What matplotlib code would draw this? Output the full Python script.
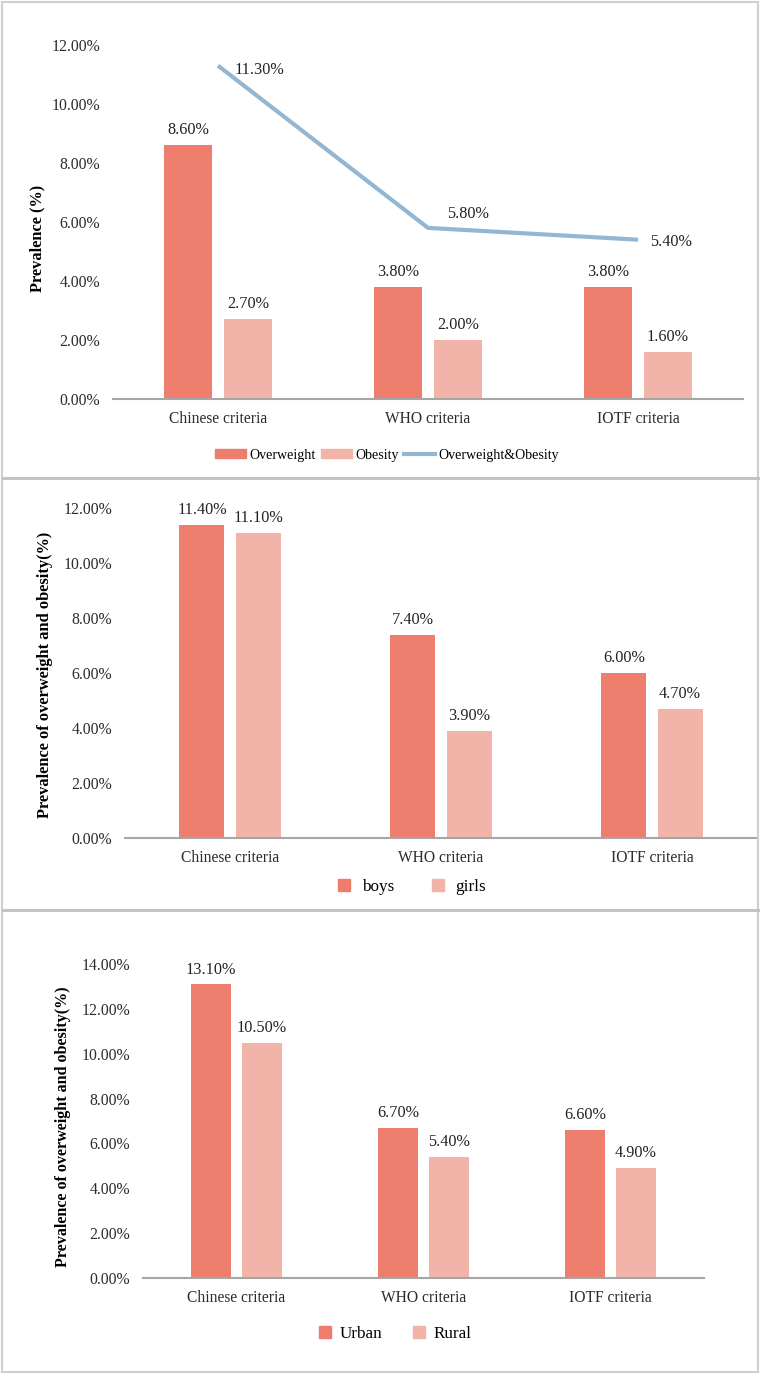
import matplotlib
matplotlib.use('Agg')
import matplotlib.pyplot as plt
from matplotlib.patches import Patch, Rectangle
from matplotlib.lines import Line2D
import numpy as np

plt.rcParams['font.family'] = ['Liberation Serif', 'DejaVu Serif']

# data
criterios = ['Chinese criteria', 'WHO criteria', 'IOTF criteria']

sobrepeso = [8.6, 3.8, 3.8]
obesidade = [2.7, 2.0, 1.6]
sobrepeso_obesidade = [11.3, 5.8, 5.4]

meninos = [11.4, 7.4, 6.0]
meninas = [11.1, 3.9, 4.7]

urbano = [13.1, 6.7, 6.6]
rural = [10.5, 5.4, 4.9]

cor_escura = '#ed7e6d'
cor_clara = '#f2b3a8'
cor_linha = '#93b7d3'
cor_eixo = '#a6a6a6'

W, H = 762, 1375
fig = plt.figure(figsize=(W / 100, H / 100), dpi=100)


def caixa(esq, dir, cima, baixo):
    # pixel box -> figure fraction
    return [esq / W, 1 - baixo / H, (dir - esq) / W, (baixo - cima) / H]


def monta_eixo(ax, ymax, passo):
    ax.set_xlim(-0.5, 2.5)
    ax.set_ylim(0, ymax)
    ticks = np.arange(0, ymax + 0.001, passo)
    ax.set_yticks(ticks)
    ax.set_yticklabels(['%.2f%%' % t for t in ticks], fontsize=11.3, color='#2b2b2b')
    ax.set_xticks(range(3))
    ax.set_xticklabels(criterios, fontsize=11.2, color='#2b2b2b')
    ax.tick_params(length=0)
    ax.tick_params(axis='x', pad=8.5)
    ax.tick_params(axis='y', pad=9)
    for s in ['top', 'right', 'left']:
        ax.spines[s].set_visible(False)
    ax.spines['bottom'].set_color(cor_eixo)
    ax.spines['bottom'].set_linewidth(1.5)
    ax.patch.set_alpha(0)


def rotula_barras(ax, barras, valores):
    for b, v in zip(barras, valores):
        ax.annotate('%.2f%%' % v, (b.get_x() + b.get_width() / 2, b.get_height()),
                    xytext=(0, 5), textcoords='offset points',
                    ha='center', va='bottom', fontsize=11.7, color='#222222')


x = np.arange(3)

# painel 1
ax1 = fig.add_axes(caixa(113, 743, 45, 399))
monta_eixo(ax1, 12, 2)
b1 = ax1.bar(x - 0.143, sobrepeso, 0.229, color=cor_escura)
b2 = ax1.bar(x + 0.143, obesidade, 0.229, color=cor_clara)
ax1.plot(x, sobrepeso_obesidade, color=cor_linha, lw=3, solid_capstyle='butt')
rotula_barras(ax1, b1, sobrepeso)
rotula_barras(ax1, b2, obesidade)
desloc = [(12, -3), (14, 10), (9, -2)]
for xi, v, d in zip(x, sobrepeso_obesidade, desloc):
    ax1.annotate('%.2f%%' % v, (xi, v), xytext=d, textcoords='offset points',
                 ha='left', va='center', fontsize=11.7, color='#222222')
fig.text(37 / W, 1 - 238 / H, 'Prevalence (%)', rotation=90, ha='center', va='center',
         fontsize=11.8, fontweight='bold')
fig.legend(handles=[Patch(color=cor_escura, label='Overweight'),
                    Patch(color=cor_clara, label='Obesity'),
                    Line2D([], [], color=cor_linha, lw=3, label='Overweight&Obesity')],
           loc='center', bbox_to_anchor=(387 / W, 1 - 455 / H), ncol=3, frameon=False,
           fontsize=10.1, handlelength=2.2, handleheight=0.55, handletextpad=0.25,
           columnspacing=0.35, borderpad=0)

# painel 2
ax2 = fig.add_axes(caixa(124.5, 757.5, 508.3, 837.7))
monta_eixo(ax2, 12, 2)
b1 = ax2.bar(x - 0.133, meninos, 0.213, color=cor_escura)
b2 = ax2.bar(x + 0.133, meninas, 0.213, color=cor_clara)
rotula_barras(ax2, b1, meninos)
rotula_barras(ax2, b2, meninas)
fig.text(45 / W, 1 - 675 / H, 'Prevalence of overweight and obesity(%)', rotation=90,
         ha='center', va='center', fontsize=11.8, fontweight='bold')
fig.legend(handles=[Patch(color=cor_escura, label='boys'),
                    Patch(color=cor_clara, label='girls')],
           loc='center', bbox_to_anchor=(412 / W, 1 - 887 / H), ncol=2, frameon=False,
           fontsize=12.3, handlelength=0.7, handleheight=0.7, handletextpad=0.7,
           columnspacing=2.2, borderpad=0)

# painel 3
ax3 = fig.add_axes(caixa(143, 704, 964.3, 1277.7))
monta_eixo(ax3, 14, 2)
b1 = ax3.bar(x - 0.136, urbano, 0.214, color=cor_escura)
b2 = ax3.bar(x + 0.136, rural, 0.214, color=cor_clara)
rotula_barras(ax3, b1, urbano)
rotula_barras(ax3, b2, rural)
fig.text(63 / W, 1 - 1127 / H, 'Prevalence of overweight and obesity(%)', rotation=90,
         ha='center', va='center', fontsize=11.6, fontweight='bold')
fig.legend(handles=[Patch(color=cor_escura, label='Urban'),
                    Patch(color=cor_clara, label='Rural')],
           loc='center', bbox_to_anchor=(395.5 / W, 1 - 1334 / H), ncol=2, frameon=False,
           fontsize=12.3, handlelength=0.7, handleheight=0.7, handletextpad=0.5,
           columnspacing=1.8, borderpad=0)

# moldura e separadores
fig.add_artist(Rectangle((2 / W, 1 - 1372 / H), 756 / W, 1370 / H, transform=fig.transFigure,
                         fill=False, edgecolor='#cfcfcf', lw=1.5))
for yy in [478, 910]:
    fig.add_artist(Line2D([3 / W, 758 / W], [1 - yy / H, 1 - yy / H], transform=fig.transFigure,
                          color='#c4c4c4', lw=2.2))

fig.savefig('out.png', dpi=100, facecolor='white')
